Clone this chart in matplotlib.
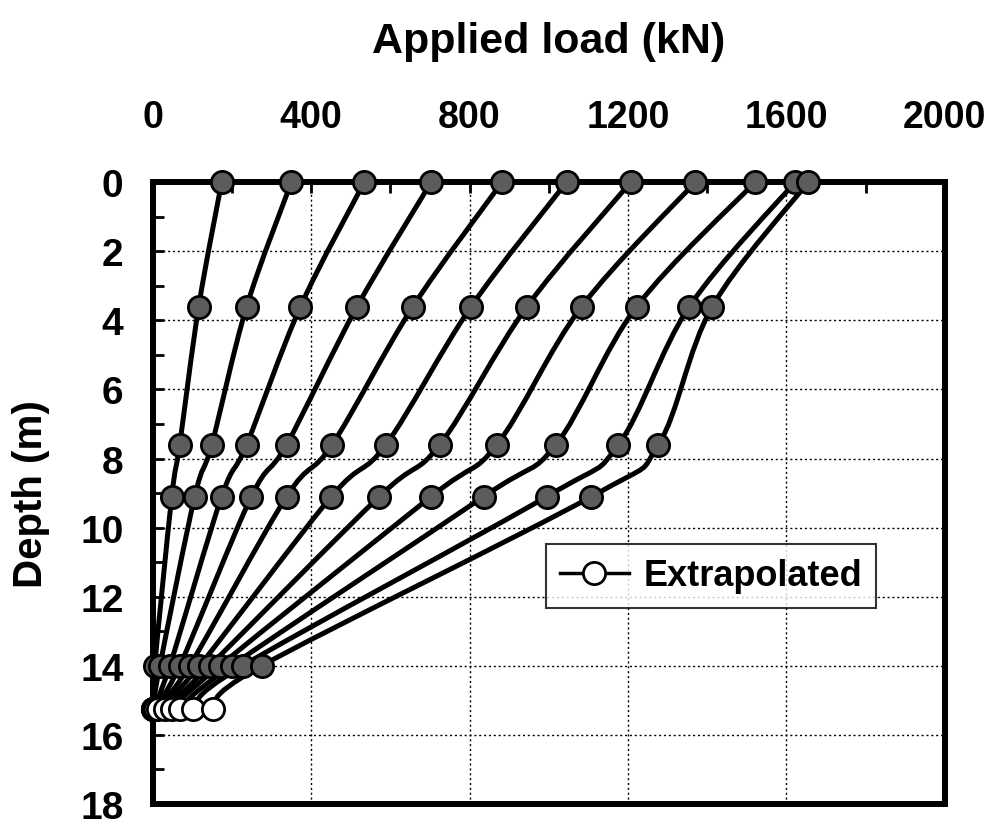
import numpy as np
import matplotlib
matplotlib.use('Agg')
import matplotlib.pyplot as plt
from matplotlib.path import Path
from matplotlib.patches import PathPatch
from matplotlib.lines import Line2D

# Profondeurs des jauges (m) et profondeur extrapolée
depths = [0.0, 3.6, 7.6, 9.1, 14.0]
depth_extrap = 15.25

# Charges mesurées (kN) à chaque profondeur, un élément par palier de chargement
load_d00 = [174, 350, 534, 703, 882, 1045, 1207, 1370, 1521, 1622, 1655]
load_d36 = [116, 237, 373, 516, 657, 804, 945, 1083, 1222, 1355, 1413]
load_d76 = [68, 149, 237, 338, 453, 589, 725, 869, 1018, 1176, 1277]
load_d91 = [48, 106, 174, 249, 338, 451, 572, 703, 836, 995, 1108]
load_d14 = [5, 18, 43, 68, 93, 118, 144, 169, 199, 227, 275]
load_extrap = [0, 0, 0, 0, 5, 13, 30, 48, 68, 101, 151]

x_ticks = [0, 400, 800, 1200, 1600, 2000]
y_ticks = [0, 2, 4, 6, 8, 10, 12, 14, 16, 18]

plt.rcParams['font.family'] = ['Liberation Sans', 'DejaVu Sans']
plt.rcParams['font.weight'] = 'bold'


def smooth_path(xs, ys):
    # courbe lissée façon tableur (Bezier de type Catmull-Rom)
    pts = np.column_stack([xs, ys]).astype(float)
    n = len(pts)
    verts = [pts[0]]
    codes = [Path.MOVETO]
    for i in range(n - 1):
        p0 = pts[max(i - 1, 0)]
        p1 = pts[i]
        p2 = pts[i + 1]
        p3 = pts[min(i + 2, n - 1)]
        verts += [p1 + (p2 - p0) / 6, p2 - (p3 - p1) / 6, p2]
        codes += [Path.CURVE4] * 3
    return Path(verts, codes)


fig = plt.figure(figsize=(10.05, 8.29), dpi=100)
ax = fig.add_axes([0.152, 0.029, 0.788, 0.750])

measured = [load_d00, load_d36, load_d76, load_d91, load_d14]
for k in range(len(load_d00)):
    xs = [row[k] for row in measured] + [load_extrap[k]]
    ys = depths + [depth_extrap]
    ax.add_patch(PathPatch(smooth_path(xs, ys), facecolor='none', edgecolor='black',
                           linewidth=3.6, clip_on=False, zorder=3))
    ax.plot(xs[:-1], ys[:-1], linestyle='none', marker='o', markersize=16,
            markerfacecolor='#5c5c5c', markeredgecolor='black', markeredgewidth=2,
            clip_on=False, zorder=4)
    ax.plot(xs[-1:], ys[-1:], linestyle='none', marker='o', markersize=16,
            markerfacecolor='white', markeredgecolor='black', markeredgewidth=2,
            clip_on=False, zorder=4)

ax.set_xlim(0, 2000)
ax.set_ylim(18, 0)
ax.xaxis.tick_top()
ax.xaxis.set_label_position('top')
ax.set_xticks(x_ticks)
ax.set_xticks(range(200, 2000, 400), minor=True)
ax.set_yticks(y_ticks)
ax.set_yticks(range(1, 18, 2), minor=True)
ax.tick_params(which='both', direction='in', length=8, width=2,
               top=True, bottom=False, left=True, right=False)
ax.tick_params(axis='x', which='major', labelsize=27, pad=34)
ax.tick_params(axis='y', which='major', labelsize=28, pad=21)
for lab in ax.get_xticklabels() + ax.get_yticklabels():
    lab.set_fontweight('bold')

ax.grid(True, which='major', linestyle=(0, (1.5, 2)), color='black', linewidth=1)
for s in ax.spines.values():
    s.set_linewidth(4.3)

ax.set_xlabel('Applied load (kN)', fontsize=31, fontweight='bold', labelpad=34)
ax.set_ylabel('Depth (m)', fontsize=29, fontweight='bold')
ax.yaxis.set_label_coords(-0.130, 0.5)

handle = Line2D([], [], color='black', linewidth=2.5, marker='o', markersize=16,
                markerfacecolor='white', markeredgecolor='black', markeredgewidth=2)
leg = ax.legend([handle], ['Extrapolated'], loc='center', bbox_to_anchor=(0.705, 0.367),
                frameon=True, fancybox=False, handlelength=1.9, handletextpad=0.4,
                prop={'size': 26, 'weight': 'bold'}, borderpad=0.4)
leg.get_frame().set_edgecolor('black')
leg.get_frame().set_linewidth(1.5)
leg.set_zorder(5)

fig.savefig('out.png', dpi=100)
